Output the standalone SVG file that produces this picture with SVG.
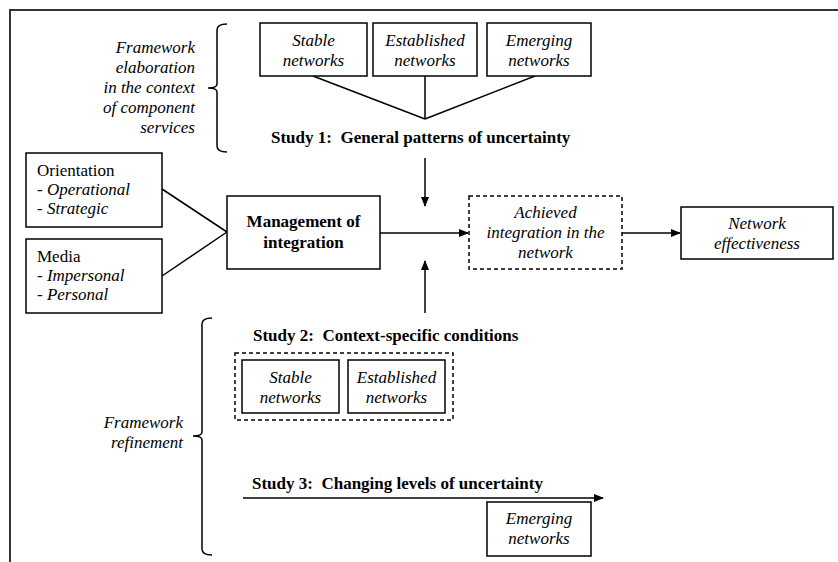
<svg xmlns="http://www.w3.org/2000/svg" width="838" height="562" viewBox="0 0 838 562">
<defs>
<marker id="ah" markerWidth="10" markerHeight="10" refX="9" refY="5" orient="auto" markerUnits="userSpaceOnUse">
<path d="M0,1 L10,5 L0,9 Z" fill="#000"/>
</marker>
</defs>
<style>
.box{fill:#fff;stroke:#000;stroke-width:1.5}
.dash{fill:#fff;stroke:#000;stroke-width:1.5;stroke-dasharray:4,3}
.ln{fill:none;stroke:#000;stroke-width:1.5}
.br{fill:none;stroke:#000;stroke-width:1.5}
text{font-family:Liberation Serif, Tinos, Times New Roman, Times, serif;font-size:17px;fill:#000}
.it{font-style:italic}
.b{font-weight:bold}
.c{text-anchor:middle}
.r{text-anchor:end}
</style>
<rect width="838" height="562" fill="#fff"/>
<g id="frame">
<path d="M10,562 V10 H838" fill="none" stroke="#333" stroke-width="2"/>
</g>
<g id="connectors">
<path class="ln" d="M313,76 L425,119 M425,76 V119 M535,76 L425,119"/>
<path class="ln" d="M425,158 V206" marker-end="url(#ah)"/>
<path class="ln" d="M425,313 V261" marker-end="url(#ah)"/>
<path class="ln" d="M162,189 L227,232 M162,276 L227,232"/>
<path class="ln" d="M380,233 H468" marker-end="url(#ah)"/>
<path class="ln" d="M622,233 H680" marker-end="url(#ah)"/>
<path class="ln" d="M243,498 H603" marker-end="url(#ah)"/>
</g>
<g id="brace-top">
<path class="br" d="M227,24 Q217,24 217,30 V84 Q217,88 208,88 Q217,88 217,92 V146 Q217,152 227,152"/>
<text class="it r" x="195" y="53">Framework</text>
<text class="it r" x="195" y="73">elaboration</text>
<text class="it r" x="195" y="93">in the context</text>
<text class="it r" x="195" y="113">of component</text>
<text class="it r" x="195" y="133">services</text>
</g>
<g id="n-stable1">
<rect class="box" x="260" y="23" width="107" height="53"/>
<text class="it c" x="313.5" y="46">Stable</text>
<text class="it c" x="313.5" y="66">networks</text>
</g>
<g id="n-established1">
<rect class="box" x="373" y="23" width="104" height="53"/>
<text class="it c" x="425" y="46">Established</text>
<text class="it c" x="425" y="66">networks</text>
</g>
<g id="n-emerging1">
<rect class="box" x="487" y="23" width="104" height="53"/>
<text class="it c" x="539" y="46">Emerging</text>
<text class="it c" x="539" y="66">networks</text>
</g>
<g id="study1">
<text class="b" x="271" y="143" xml:space="preserve">Study 1:  General patterns of uncertainty</text>
</g>
<g id="n-orientation">
<rect class="box" x="26" y="153" width="136" height="74"/>
<text x="37" y="176">Orientation</text>
<text x="37" y="195">- <tspan class="it">Operational</tspan></text>
<text x="37" y="214">- <tspan class="it">Strategic</tspan></text>
</g>
<g id="n-media">
<rect class="box" x="26" y="239" width="136" height="74"/>
<text x="37" y="262">Media</text>
<text x="37" y="281">- <tspan class="it">Impersonal</tspan></text>
<text x="37" y="300">- <tspan class="it">Personal</tspan></text>
</g>
<g id="n-management">
<rect class="box" x="227" y="196" width="153" height="73"/>
<text class="b c" x="303.5" y="227">Management of</text>
<text class="b c" x="303.5" y="248">integration</text>
</g>
<g id="n-achieved">
<rect class="dash" x="469" y="196" width="153" height="73"/>
<text class="it c" x="545.5" y="218">Achieved</text>
<text class="it c" x="545.5" y="238">integration in the</text>
<text class="it c" x="545.5" y="258">network</text>
</g>
<g id="n-effectiveness">
<rect class="box" x="681" y="207" width="152" height="52"/>
<text class="it c" x="757" y="229">Network</text>
<text class="it c" x="757" y="249">effectiveness</text>
</g>
<g id="brace-bottom">
<path class="br" d="M212,318 Q202,318 202,324 V432 Q202,436 193,436 Q202,436 202,440 V549 Q202,555 212,555"/>
<text class="it r" x="183" y="428">Framework</text>
<text class="it r" x="183" y="448">refinement</text>
</g>
<g id="study2">
<text class="b" x="253" y="341" xml:space="preserve">Study 2:  Context-specific conditions</text>
</g>
<g id="group2">
<rect class="dash" x="235" y="353" width="218" height="67" fill="none"/>
</g>
<g id="n-stable2">
<rect class="box" x="242" y="360" width="97" height="53"/>
<text class="it c" x="290.5" y="383">Stable</text>
<text class="it c" x="290.5" y="403">networks</text>
</g>
<g id="n-established2">
<rect class="box" x="348" y="360" width="97" height="53"/>
<text class="it c" x="396.5" y="383">Established</text>
<text class="it c" x="396.5" y="403">networks</text>
</g>
<g id="study3">
<text class="b" x="252" y="489" xml:space="preserve">Study 3:  Changing levels of uncertainty</text>
</g>
<g id="n-emerging3">
<rect class="box" x="487" y="502" width="104" height="54"/>
<text class="it c" x="539" y="524">Emerging</text>
<text class="it c" x="539" y="544">networks</text>
</g>
</svg>
